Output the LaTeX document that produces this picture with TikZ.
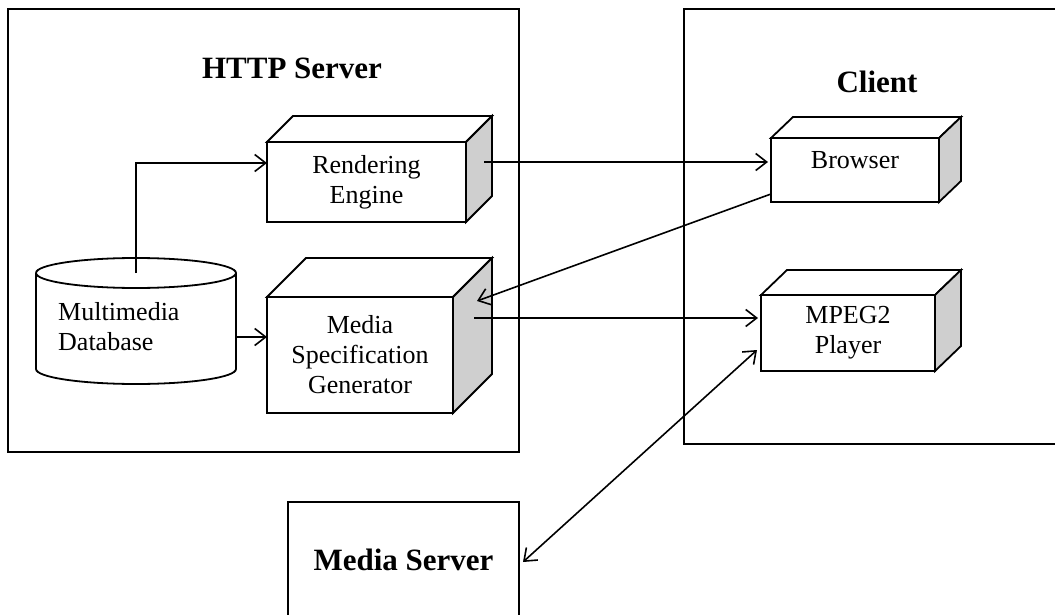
\documentclass[tikz,border=0pt]{standalone}
\usepackage{fontspec}
\setmainfont{Liberation Serif}
\usetikzlibrary{arrows.meta,calc}
\newcommand\cubefaces[3]{%
  \filldraw[face, fill=white] (#1.north west) -- ++(#2,-#3) -- ([shift={(#2,-#3)}]#1.north east) -- (#1.north east) -- cycle;
  \filldraw[face, fill=black!19] (#1.north east) -- ([shift={(#2,-#3)}]#1.north east) -- ([shift={(#2,-#3)}]#1.south east) -- (#1.south east) -- cycle;}
\begin{document}
\begin{tikzpicture}[x=1pt,y=-1pt,
  frame/.style={draw, line width=1.8pt, inner sep=0pt, outer sep=0pt},
  face/.style={draw, line width=1.8pt},
  front/.style={draw, line width=1.8pt, fill=white, inner sep=0pt, outer sep=0pt, align=center,
    font=\fontsize{26}{30}\selectfont},
  lbl/.style={inner sep=0pt, font=\fontsize{26}{30}\selectfont},
  title/.style={inner sep=0pt, font=\fontsize{31}{36}\selectfont\bfseries},
  tip/.style={},
  arr/.style={line width=1.6pt, -{Straight Barb[length=11pt,width=17pt,line width=1.6pt]}},
  darr/.style={line width=1.6pt, {Straight Barb[length=11pt,width=17pt,line width=1.6pt]}-{Straight Barb[length=11pt,width=17pt,line width=1.6pt]}}]
\useasboundingbox (0,0) rectangle (1055,615);
\clip (0,0) rectangle (1055,615);
\fill[white] (0,0) rectangle (1055,615);

% containers
\node[frame, minimum width=511pt, minimum height=443pt] (http) at (263.5,230.5) {};
\node[title, anchor=base] (httpt) at (292,79) {HTTP Server};
\node[frame, minimum width=386pt, minimum height=435pt] (client) at (877,226.5) {};
\node[title, anchor=base] (clientt) at (877,93) {Client};
\node[frame, minimum width=231pt, minimum height=116pt, title] (ms) at (403.5,560) {Media Server};

% database cylinder
\node[minimum width=200pt, minimum height=96pt, inner sep=0pt, outer sep=0pt] (db) at (136,321) {};
\draw[face, fill=white] (db.north west) -- (db.south west) arc[start angle=180, end angle=360, x radius=100pt, y radius=15pt]
   -- (db.north east) arc[start angle=0, end angle=180, x radius=100pt, y radius=15pt];
\draw[face] (db.north west) arc[start angle=180, end angle=360, x radius=100pt, y radius=15pt];
\node[lbl, anchor=west, align=left] (dbl) at (58,327) {Multimedia\\Database};

% cuboids
\node[front, minimum width=199pt, minimum height=80pt] (re) at (366.5,182) {Rendering\\Engine};
\cubefaces{re}{26}{26}
\node[front, minimum width=186pt, minimum height=116pt] (msg) at (360,355) {Media\\Specification\\Generator};
\cubefaces{msg}{39}{39}
\node[front, minimum width=168pt, text height=30.5pt, text depth=33.5pt] (br) at (855,170) {Browser};
\cubefaces{br}{22}{21}
\node[front, minimum width=174pt, minimum height=76pt] (mp) at (848,333) {MPEG2\\Player};
\cubefaces{mp}{26}{25}

% connectors
\draw[arr] (db.north) |- (re.west |- 0,163);
\draw[arr] (db.east |- 0,337) -- (msg.west |- 0,337);
\draw[arr, shorten >=3pt] ([xshift=18pt,yshift=20pt]re.east) -- (br.west |- 0,162);
\draw[arr] ([yshift=8pt]br.south west) -- ([xshift=24pt,yshift=54pt]msg.east);
\draw[arr, shorten >=3pt] ([xshift=21pt,yshift=37pt]msg.east) -- (mp.west |- 0,318);
\draw[darr] ([xshift=-4pt,yshift=21pt]mp.south west) -- ([xshift=4pt,yshift=-2pt]ms.east);
\end{tikzpicture}
\end{document}
